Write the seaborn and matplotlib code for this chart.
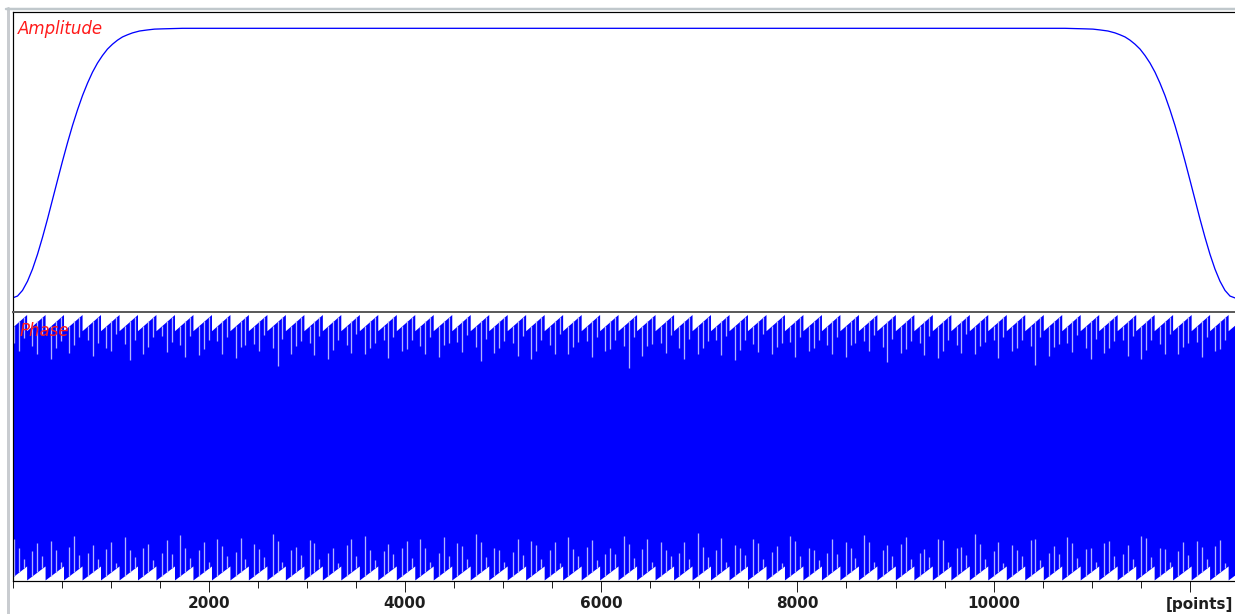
import numpy as np
import matplotlib
matplotlib.use("Agg")
import matplotlib.pyplot as plt
from matplotlib.lines import Line2D
from matplotlib.ticker import FixedLocator, MultipleLocator
import seaborn as sns

# ---------------------------------------------------------------- data
N_POINTS = 12460

# amplitude envelope (% of maximum) at point indices
amp_points = [0, 51, 102, 153, 204, 255, 306, 357, 408, 459, 510, 561, 612, 663,
              714, 765, 815, 866, 917, 968, 1019, 1070, 1121, 1172, 1223, 1295,
              1376, 1448, 1529, 1733,
              10727, 10931, 11012, 11084, 11165, 11237, 11288, 11339, 11390,
              11441, 11492, 11543, 11594, 11645, 11695, 11746, 11797, 11848,
              11899, 11950, 12001, 12052, 12103, 12154, 12205, 12256, 12307,
              12358, 12409, 12460]
amp_values = [0, 0.7, 2.8, 6.2, 10.7, 16.2, 22.5, 29.3, 36.5, 43.7, 50.8, 57.6,
              64.0, 69.8, 75.1, 79.7, 83.7, 87.1, 89.9, 92.3, 94.1, 95.6, 96.8,
              97.6, 98.3, 99.0, 99.4, 99.7, 99.8, 100,
              100, 99.8, 99.7, 99.4, 99.0, 98.3, 97.6, 96.8, 95.6, 94.1, 92.3,
              89.9, 87.1, 83.7, 79.7, 75.1, 69.8, 64.0, 57.6, 50.8, 43.7, 36.5,
              29.3, 22.5, 16.2, 10.7, 6.2, 2.8, 0.7, 0]

# wrapped phase (degrees): the trace wraps so fast that it renders as a band;
# its upper / lower edge ramps restart at these point indices
phase_breaks = [144, 332, 520, 709, 897, 1086, 1274, 1462, 1651, 1839, 2028,
                2216, 2404, 2593, 2781, 2970, 3158, 3346, 3535, 3723, 3912,
                4100, 4288, 4477, 4665, 4854, 5042, 5230, 5419, 5607, 5796,
                5984, 6172, 6361, 6549, 6738, 6926, 7114, 7303, 7491, 7680,
                7868, 8056, 8245, 8433, 8622, 8810, 8998, 9187, 9375, 9564,
                9752, 9940, 10129, 10317, 10506, 10694, 10882, 11071, 11259,
                11448, 11636, 11824, 12013, 12201, 12390]
top_ramp = [158, 180]        # upper edge: start / end of each ramp
bottom_ramp = [-180, -161]   # lower edge: start / end of each ramp
top_edge_ends = [163, 166]   # upper edge at the first and last point
bottom_edge_ends = [-176, -173]

# short excursions inside each ramp, points before the ramp ends
spike_lags = [30, 80, 130]
top_spike_tips = [
    [148, 131, 142], [152, 126, 137], [144, 134, 120], [150, 139, 128],
    [141, 124, 146], [153, 130, 135], [146, 118, 140], [149, 136, 127],
    [143, 129, 151], [151, 122, 138], [145, 133, 125], [150, 127, 144],
    [139, 136, 121], [152, 131, 140], [147, 110, 134], [144, 137, 126],
    [151, 125, 142], [146, 132, 119], [153, 128, 139], [142, 135, 127],
    [149, 121, 145], [145, 133, 130], [150, 126, 137], [141, 138, 123],
    [152, 129, 143], [147, 117, 136], [144, 134, 128], [151, 124, 141],
    [146, 131, 120], [153, 127, 139], [143, 136, 126], [149, 122, 144],
    [145, 133, 131], [150, 108, 137], [140, 137, 124], [152, 128, 142],
    [147, 120, 135], [144, 135, 127], [151, 125, 146], [146, 132, 118],
    [153, 129, 140], [142, 136, 126], [149, 123, 143], [145, 134, 130],
    [150, 126, 138], [141, 139, 122], [152, 130, 144], [147, 116, 136],
    [144, 133, 128], [151, 125, 141], [146, 131, 121], [153, 128, 139],
    [143, 137, 127], [149, 121, 145], [145, 134, 131], [150, 112, 137],
    [140, 136, 124], [152, 129, 142], [147, 119, 135], [144, 135, 128],
    [151, 124, 146], [146, 132, 119], [153, 127, 140], [142, 136, 126],
    [149, 122, 143], [145, 133, 130]]
bottom_spike_tips = [
    [-152, -136, -124], [-148, -130, -141], [-155, -139, -127], [-146, -121, -135],
    [-151, -133, -144], [-157, -128, -138], [-149, -140, -122], [-153, -131, -136],
    [-145, -126, -143], [-150, -137, -119], [-156, -129, -140], [-147, -134, -125],
    [-152, -123, -142], [-149, -138, -131], [-155, -127, -117], [-146, -135, -139],
    [-151, -130, -126], [-157, -136, -143], [-148, -124, -133], [-153, -139, -121],
    [-145, -131, -141], [-150, -127, -136], [-156, -137, -124], [-147, -122, -144],
    [-152, -134, -130], [-149, -128, -118], [-155, -140, -137], [-146, -125, -142],
    [-151, -133, -127], [-157, -129, -139], [-148, -138, -122], [-153, -126, -135],
    [-145, -136, -145], [-150, -131, -120], [-156, -124, -138], [-147, -139, -129],
    [-152, -128, -143], [-149, -135, -116], [-155, -123, -140], [-146, -137, -132],
    [-151, -130, -125], [-157, -134, -142], [-148, -127, -121], [-153, -140, -136],
    [-145, -125, -144], [-150, -136, -128], [-156, -129, -119], [-147, -133, -139],
    [-152, -122, -131], [-149, -138, -143], [-155, -126, -124], [-146, -135, -137],
    [-151, -131, -118], [-157, -128, -141], [-148, -139, -133], [-153, -124, -126],
    [-145, -134, -144], [-150, -130, -122], [-156, -137, -138], [-147, -127, -130],
    [-152, -132, -145], [-149, -123, -120], [-155, -138, -136], [-146, -129, -141],
    [-151, -135, -127], [-157, -126, -134]]

x_ticks = [2000, 4000, 6000, 8000, 10000, 12000]
x_tick_labels = ["2000", "4000", "6000", "8000", "10000", ""]
x_unit = "[points]"

# ---------------------------------------------------------------- style
sns.set_style("white")
plt.rcParams["font.family"] = ["DejaVu Sans"]

BLUE = "#0000ff"
SPIKE = "#b2b2ff"
RED = "#ff1a1a"
PX = 0.72  # one pixel in points at 100 dpi

W, H = 1235, 614
fig = plt.figure(figsize=(W / 100, H / 100), dpi=100)


def box(left, top, right, bottom):
    return [left / W, 1 - bottom / H, (right - left) / W, (bottom - top) / H]


ax_amp = fig.add_axes(box(12.5, 12, 1235, 312.5))
ax_ph = fig.add_axes(box(12.5, 312.5, 1235, 581), sharex=ax_amp)

# ---------------------------------------------------------------- amplitude
sns.lineplot(x=amp_points, y=amp_values, ax=ax_amp, color=BLUE,
             linewidth=1.3 * PX, estimator=None)
ax_amp.set_ylim(-5.4, 106.05)
ax_amp.set_xlim(0, N_POINTS)

# ---------------------------------------------------------------- phase band
breaks = np.asarray(phase_breaks, dtype=float)
x_env = np.concatenate([[0], np.repeat(breaks, 2), [N_POINTS]])
top_env = np.concatenate([[top_edge_ends[0]],
                          np.tile(top_ramp[::-1], len(breaks)),
                          [top_edge_ends[1]]])
bot_env = np.concatenate([[bottom_edge_ends[0]],
                          np.tile(bottom_ramp[::-1], len(breaks)),
                          [bottom_edge_ends[1]]])
ax_ph.fill_between(x_env, bot_env, top_env, color=BLUE, linewidth=0)

spike_x = (breaks[:, None] - np.asarray(spike_lags)[None, :]).ravel()
top_tips = np.asarray(top_spike_tips, dtype=float).ravel()
bot_tips = np.asarray(bottom_spike_tips, dtype=float).ravel()
ax_ph.vlines(spike_x, top_tips, np.interp(spike_x, x_env, top_env),
             color=SPIKE, linewidth=1.3 * PX)
ax_ph.vlines(spike_x, np.interp(spike_x, x_env, bot_env), bot_tips,
             color=SPIKE, linewidth=1.3 * PX)
ax_ph.set_ylim(-181.4, 182.7)
ax_ph.set_xlim(0, N_POINTS)

# ---------------------------------------------------------------- frames
for ax in (ax_amp, ax_ph):
    ax.set_facecolor("white")
    ax.spines["right"].set_visible(False)
    ax.spines["left"].set_color("black")
    ax.spines["left"].set_linewidth(1.2 * PX)
    ax.set_yticks([])
    ax.grid(False)

ax_amp.spines["top"].set_color("black")
ax_amp.spines["top"].set_linewidth(1.2 * PX)
ax_amp.spines["bottom"].set_visible(False)
ax_amp.tick_params(axis="x", which="both", bottom=False, labelbottom=False)
ax_amp.set_xlabel("")
ax_amp.set_ylabel("")

# grey divider between the two panels
ax_ph.spines["top"].set_color("#5c5c5c")
ax_ph.spines["top"].set_linewidth(2 * PX)
ax_ph.spines["top"].set_zorder(5)
ax_ph.spines["bottom"].set_color("black")
ax_ph.spines["bottom"].set_linewidth(1.2 * PX)
ax_ph.xaxis.set_major_locator(FixedLocator(x_ticks))
ax_ph.set_xticklabels(x_tick_labels)
ax_ph.xaxis.set_minor_locator(MultipleLocator(500))
ax_ph.tick_params(axis="x", which="major", direction="out", length=10.7 * PX,
                  width=1.0 * PX, color="#222222", pad=3.0, labelsize=11,
                  labelcolor="#1e1e1e", bottom=True)
ax_ph.tick_params(axis="x", which="minor", direction="out", length=7.3 * PX,
                  width=1.0 * PX, color="#222222", bottom=True)
for lbl in ax_ph.get_xticklabels():
    lbl.set_fontweight("bold")

# outer light border of the panel
fig.add_artist(Line2D([7.5 / W, 7.5 / W], [0, 1 - 8 / H], color="#c9ccd0",
                      linewidth=3 * PX, transform=fig.transFigure))
fig.add_artist(Line2D([6 / W, 1], [1 - 8.5 / H, 1 - 8.5 / H], color="#c0c8cc",
                      linewidth=2.5 * PX, transform=fig.transFigure))

# ---------------------------------------------------------------- labels
fig.text(18 / W, 1 - 34.3 / H, "Amplitude", color=RED, fontsize=12,
         style="italic", va="baseline", ha="left")
fig.text(20 / W, 1 - 336 / H, "Phase", color=RED, fontsize=12,
         style="italic", va="baseline", ha="left")
fig.text(1233 / W, 1 - 609 / H, x_unit, color="#1e1e1e", fontsize=11,
         fontweight="bold", va="baseline", ha="right")

fig.savefig("out.png", dpi=100)
